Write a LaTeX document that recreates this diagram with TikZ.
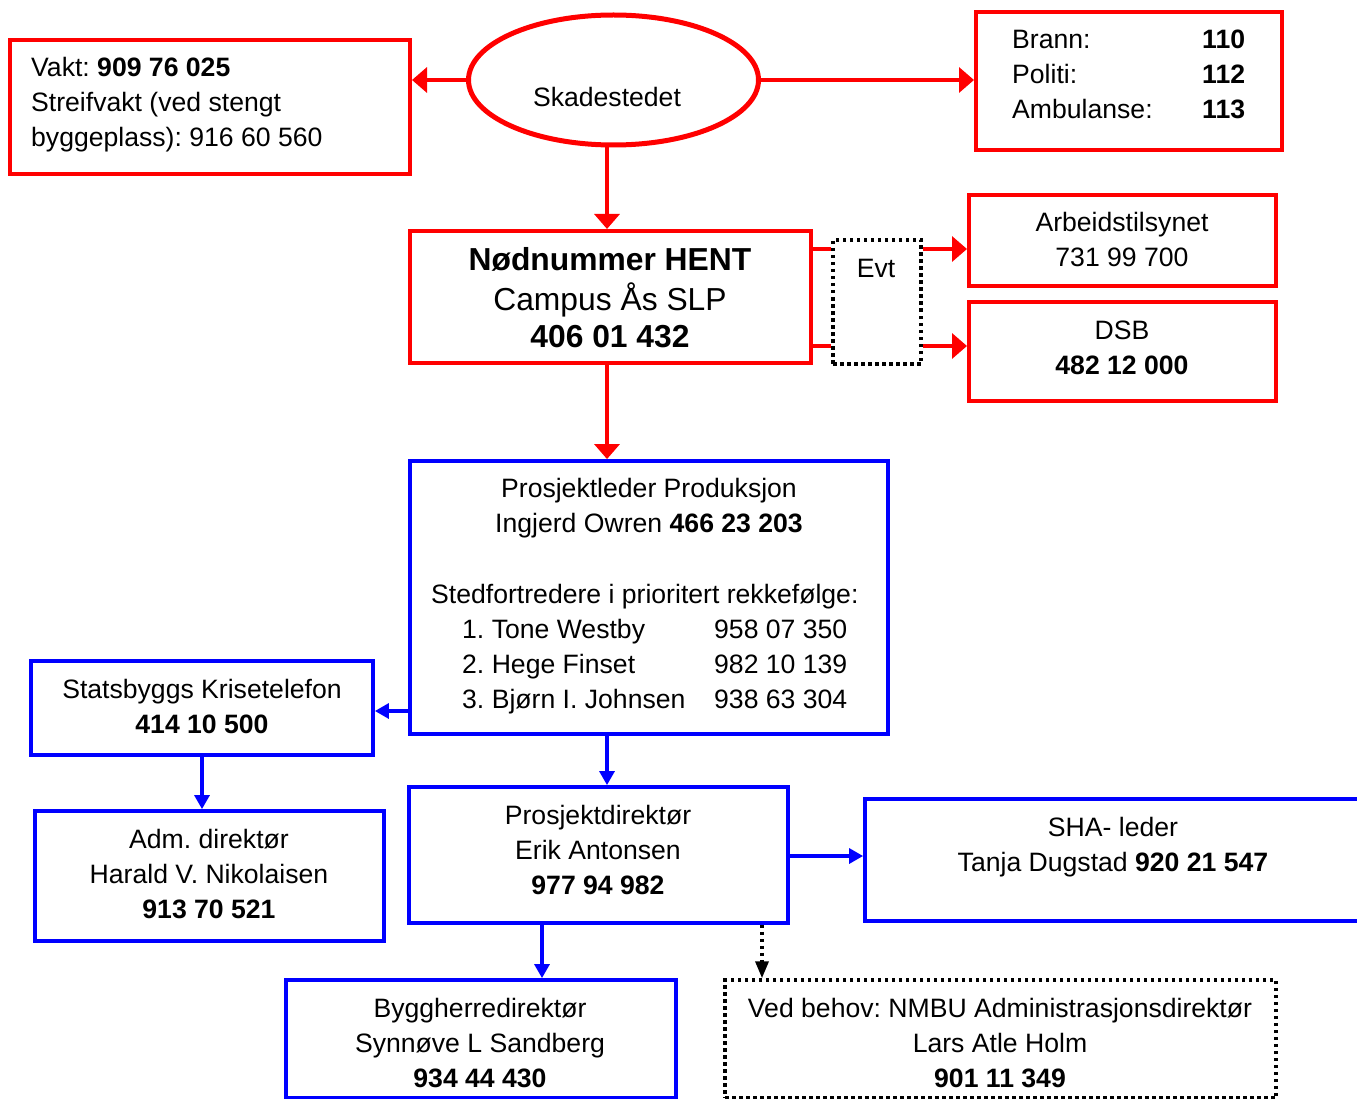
\documentclass[tikz,border=0pt]{standalone}
\usepackage{fontspec}
\setmainfont{Liberation Sans}
\usetikzlibrary{arrows.meta,shapes.geometric}
\definecolor{rd}{RGB}{255,0,0}
\definecolor{bl}{RGB}{0,0,255}
\begin{document}
\frenchspacing
\begin{tikzpicture}[x=1pt,y=-1pt,
  redbox/.style={draw=rd,line width=4pt,inner sep=0pt},
  bluebox/.style={draw=bl,line width=3.8pt,inner sep=0pt},
  dotbox/.style={draw=black,line width=3.5pt,dash pattern=on 3.5pt off 3.5pt,inner sep=0pt},
  txt/.style={font=\fontsize{26.6}{35}\selectfont\frenchspacing,align=center,inner sep=0pt},
  ltxt/.style={txt,align=left,anchor=west},
  bigtxt/.style={font=\fontsize{31.8}{37}\selectfont\frenchspacing,align=center,inner sep=0pt},
  rarrow/.style={draw=rd,line width=3.5pt,-{Triangle[width=25pt,length=15pt]}},
  rline/.style={draw=rd,line width=3.5pt},
  barrow/.style={draw=bl,line width=3.2pt,-{Triangle[width=15pt,length=14pt]}},
  karrow/.style={draw=black,line width=3.5pt,dash pattern=on 3.5pt off 3.5pt,-{Triangle[width=13pt,length=17pt]}},
]
\useasboundingbox (0,0) rectangle (1357,1099);
\clip (0,0) rectangle (1357,1099);

% ---------- red part ----------
\node[ellipse,draw=rd,line width=5pt,minimum width=290pt,minimum height=130pt,inner sep=0pt] (ell) at (613.5,80) {};
\node[txt] (ellt) at (607,99.5) {\strut Skadestedet};

\node[redbox,minimum width=400pt,minimum height=134pt] (vakt) at (210,107) {};
\node[ltxt] (vaktt) at (31,104.5) {\strut Vakt: \textbf{909 76 025}\\\strut Streifvakt (ved stengt\\\strut byggeplass): 916 60 560};

\node[redbox,minimum width=306pt,minimum height=138pt] (brann) at (1129,81) {};
\node[ltxt] (brannl) at (1012,77) {\strut Brann:\\\strut Politi:\\\strut Ambulanse:};
\node[ltxt] (brannn) at (1202,77) {\strut\textbf{110}\\\strut\textbf{112}\\\strut\textbf{113}};

\node[redbox,minimum width=401pt,minimum height=132pt] (hent) at (610.5,297) {};
\node[bigtxt] (hentt) at (610,302) {\strut\textbf{Nødnummer HENT}\\\strut Campus Ås SLP\\\strut\textbf{406 01 432}};

\node[dotbox,minimum width=88pt,minimum height=124pt] (evt) at (877,302) {};
\node[txt] (evtt) at (876,270.5) {\strut Evt};

\node[redbox,minimum width=307pt,minimum height=91pt] (arb) at (1122.5,240.5) {};
\node[txt] (arbt) at (1122,242) {\strut Arbeidstilsynet\\\strut 731 99 700};

\node[redbox,minimum width=307pt,minimum height=99pt] (dsb) at (1122.5,351.5) {};
\node[txt] (dsbt) at (1122,349.5) {\strut DSB\\\strut\textbf{482 12 000}};

\coordinate (c607) at (607,0);
\coordinate (e1) at (0,249);
\coordinate (e2) at (0,346);
\draw[rarrow] (ell.west) -- (ell.west -| vakt.east);
\draw[rarrow] (ell.east) -- (ell.east -| brann.west);
\draw[rarrow] (c607 |- ell.south) -- (c607 |- hent.north);
\draw[rline] (hent.east |- e1) -- (evt.west |- e1);
\draw[rline] (hent.east |- e2) -- (evt.west |- e2);
\draw[rarrow] (evt.east |- e1) -- (arb.west |- e1);
\draw[rarrow] (evt.east |- e2) -- (dsb.west |- e2);

% ---------- blue part ----------
\node[bluebox,minimum width=478pt,minimum height=273pt] (pl) at (649,597.5) {};
\node[txt] (plt) at (649,508) {\strut Prosjektleder Produksjon\\\strut Ingjerd Owren \textbf{466 23 203}};
\node[ltxt] (pls) at (431,596.5) {\strut Stedfortredere i prioritert rekkefølge:};
\node[ltxt] (pln) at (462,666.5) {\strut 1. Tone Westby\\\strut 2. Hege Finset\\\strut 3. Bjørn I. Johnsen};
\node[ltxt] (plnr) at (714,666.5) {\strut 958 07 350\\\strut 982 10 139\\\strut 938 63 304};

\node[bluebox,minimum width=342pt,minimum height=94pt] (krise) at (202,708) {};
\node[txt] (kriset) at (202,709) {\strut Statsbyggs Krisetelefon\\\strut\textbf{414 10 500}};

\node[bluebox,minimum width=349pt,minimum height=130pt] (adm) at (209.5,876) {};
\node[txt] (admt) at (209,876.5) {\strut Adm. direktør\\\strut Harald V. Nikolaisen\\\strut\textbf{913 70 521}};

\node[bluebox,minimum width=379pt,minimum height=136pt] (pd) at (598.5,855) {};
\node[txt] (pdt) at (598,852.5) {\strut Prosjektdirektør\\\strut Erik Antonsen\\\strut\textbf{977 94 982}};

\node[bluebox,minimum width=525pt,minimum height=122pt] (sha) at (1127.5,860) {};
\node[txt] (shat) at (1113,847) {\strut SHA- leder\\\strut Tanja Dugstad \textbf{920 21 547}};

\node[bluebox,minimum width=390pt,minimum height=118pt] (bygg) at (481,1039) {};
\node[txt] (byggt) at (480,1045.5) {\strut Byggherredirektør\\\strut Synnøve L Sandberg\\\strut\textbf{934 44 430}};

\node[dotbox,minimum width=551pt,minimum height=118pt] (nmbu) at (1000.5,1039) {};
\node[txt] (nmbut) at (1000,1045.5) {\strut Ved behov: NMBU Administrasjonsdirektør\\\strut Lars Atle Holm\\\strut\textbf{901 11 349}};

\coordinate (c542) at (542,0);
\coordinate (c762) at (762,0);
\coordinate (r711) at (0,711);
\coordinate (r856) at (0,856);
\draw[rarrow] (c607 |- hent.south) -- (c607 |- pl.north);
\draw[barrow] (pl.west |- r711) -- (krise.east |- r711);
\draw[barrow] (krise.south) -- (krise.south |- adm.north);
\draw[barrow] (c607 |- pl.south) -- (c607 |- pd.north);
\draw[barrow] (pd.east |- r856) -- (sha.west |- r856);
\draw[barrow] (c542 |- pd.south) -- (c542 |- bygg.north);
\draw[karrow] (c762 |- pd.south) -- (c762 |- nmbu.north);
\end{tikzpicture}
\end{document}
